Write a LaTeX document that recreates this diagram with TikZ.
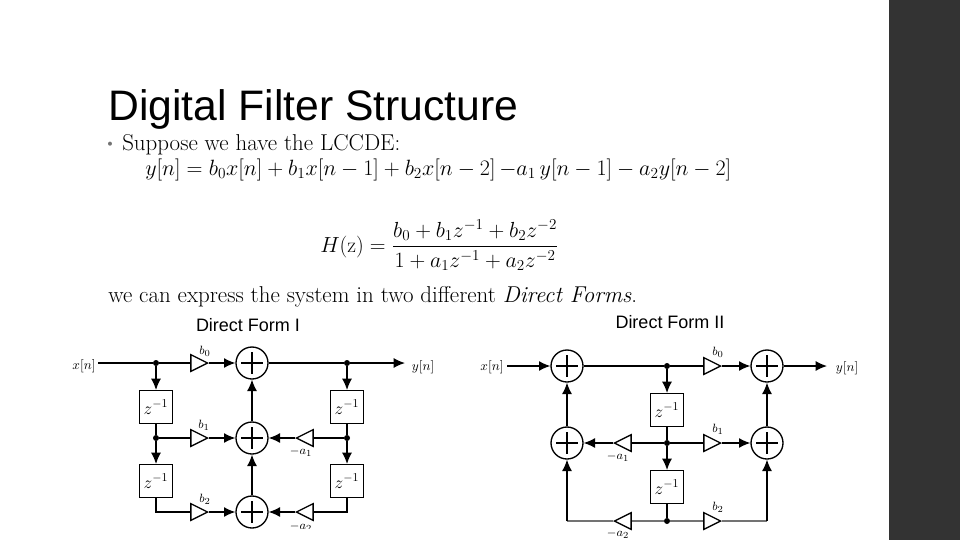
\documentclass[tikz,border=0pt]{standalone}
\usepackage{fontspec}
\usepackage{amsmath}
\usepackage{graphicx}
\newfontfamily\arialf{Liberation Sans}
\usetikzlibrary{shapes.geometric,arrows.meta}
\newcommand{\zinv}{\scalebox{0.9}{$z^{-1}$}}
\tikzset{
  wire/.style={line width=1pt,draw=black},
  wireg/.style={line width=1pt,draw=black!55},
  arr/.style={wire,-{Latex[length=8.5pt,width=7.5pt]}},
  sumn/.style={circle,draw,line width=1pt,minimum size=24pt,inner sep=0pt,
    path picture={\draw[line width=1pt] (path picture bounding box.center) +(-8pt,0) -- +(8pt,0)
      (path picture bounding box.center) +(0,-8pt) -- +(0,8pt);}},
  delay/.style={rectangle,draw,line width=1pt,minimum size=24.5pt,inner sep=0pt,font=\fontsize{14}{15}\selectfont},
  dotn/.style={circle,fill=black,inner sep=0pt,minimum size=4.5pt},
  gainr/.style={isosceles triangle,isosceles triangle stretches,draw,line width=1pt,fill=white,
    minimum width=12.5pt,minimum height=12.5pt,inner sep=0pt},
  gainl/.style={gainr,shape border rotate=180},
  lab/.style={inner sep=0pt,font=\fontsize{9.5}{10}\selectfont},
  sig/.style={inner sep=0pt,font=\fontsize{10}{11}\selectfont},
  ttl/.style={inner sep=0pt,font=\arialf\fontsize{13.5}{15}\selectfont},
  body/.style={inner sep=0pt,anchor=base west,font=\fontsize{17.2}{19}\selectfont},
  eqn/.style={inner sep=0pt,anchor=base west,font=\fontsize{17}{19}\selectfont},
  eqf/.style={inner sep=0pt,font=\fontsize{17}{19}\selectfont},
}
\begin{document}
\begin{tikzpicture}[x=0.75pt,y=-0.75pt]
\useasboundingbox (0,0) rectangle (960,540);
\fill[white] (0,0) rectangle (960,540);
\fill[black!80] (889,0) rectangle (960,540);

% heading and text
\node[inner sep=0pt,anchor=base west,font=\arialf\fontsize{32}{36}\selectfont] (title) at (108,120) {Digital Filter Structure};
\node[inner sep=0pt,text=black!55,font=\fontsize{7}{7}\selectfont] (bul) at (110,144) {$\bullet$};
\node[body] (t1) at (122,150) {Suppose we have the LCCDE:};
\node[eqn] (t2) at (145,175) {\scalebox{0.96}{$y[n]=b_0x[n]+b_1x[n-1]+b_2x[n-2]\,{-}a_1\,y[n-1]-a_2y[n-2]$}};
\node[eqf,anchor=west] (t3) at (320,245) {\scalebox{0.948}{$H(\mathrm{z})=\dfrac{b_0+b_1z^{-1}+b_2z^{-2}}{1+a_1z^{-1}+a_2z^{-2}}$}};
\node[body] (t4) at (108,302) {we can express the system in two different \textit{Direct Forms}.};
\node[ttl] (f1) at (248,325) {Direct Form I};
\node[ttl] (f2) at (670,322) {Direct Form II};

% Direct Form I
\node[sig] (xa) at (84,366) {$x[n]$};
\node[sig] (ya) at (423,367) {$y[n]$};
\coordinate (xas) at (98,363);
\coordinate (yae) at (405,363);
\node[sumn] (s0) at (252,363) {};
\node[sumn] (s1) at (252,438) {};
\node[sumn] (s2) at (252,512) {};
\node[dotn] (j0) at (156,363) {};
\node[dotn] (j1) at (156,438) {};
\node[dotn] (j3) at (347,363) {};
\node[dotn] (j4) at (347,438) {};
\node[delay] (d1) at (156,407) {\zinv};
\node[delay] (d2) at (156,481) {\zinv};
\node[delay] (d3) at (347,407) {\zinv};
\node[delay] (d4) at (347,481) {\zinv};
\node[gainr] (g0) at (196,363) {};
\node[gainr] (g1) at (196,438) {};
\node[gainr] (g2) at (196,512) {};
\node[gainl] (g4) at (308,438) {};
\node[gainl] (g5) at (308,512) {};
\node[lab] (lb0) at (205,351) {$b_0$};
\node[lab] (lb1) at (204,425) {$b_1$};
\node[lab] (lb2) at (205,499) {$b_2$};
\node[lab] (la1) at (301,452) {$-a_1$};
\node[lab] (la2) at (301,527) {$-a_2$};
\draw[wire] (xas) -- (j0) -- (g0.lower side);
\draw[arr] (g0.apex) -- (s0);
\draw[arr] (j0) -- (d1);
\draw[wire] (d1) -- (j1);
\draw[arr] (j1) -- (d2);
\draw[wire] (j1) -- (g1.lower side);
\draw[arr] (g1.apex) -- (s1);
\draw[wire] (d2.south) |- (g2.lower side);
\draw[arr] (g2.apex) -- (s2);
\draw[arr] (s2) -- (s1);
\draw[arr] (s1) -- (s0);
\draw[wire] (s0) -- (j3);
\draw[arr] (j3) -- (yae);
\draw[arr] (j3) -- (d3);
\draw[wire] (d3) -- (j4);
\draw[arr] (j4) -- (d4);
\draw[wire] (j4) -- (g4.lower side);
\draw[arr] (g4.apex) -- (s1);
\draw[wire] (d4.south) |- (g5.lower side);
\draw[arr] (g5.apex) -- (s2);
\fill[white] (60,528.5) rectangle (460,540);

% Direct Form II
\node[sig] (xb) at (492,367) {$x[n]$};
\node[sig] (yb) at (847,368) {$y[n]$};
\coordinate (xbs) at (507,366);
\coordinate (ybe) at (827,366);
\node[sumn] (p0) at (567,366) {};
\node[sumn] (p1) at (567,443) {};
\node[sumn] (q0) at (767,366) {};
\node[sumn] (q1) at (767,443) {};
\node[dotn] (k0) at (667,366) {};
\node[dotn] (k1) at (667,443) {};
\node[dotn,fill=black] (k2) at (667,521) {};
\node[delay] (e1) at (667,410) {\zinv};
\node[delay] (e2) at (667,487) {\zinv};
\node[gainr] (h0) at (709,366) {};
\node[gainr] (h1) at (709,443) {};
\node[gainr] (h2) at (709,521) {};
\node[gainl] (h3) at (626,443) {};
\node[gainl] (h4) at (626,521) {};
\node[lab] (mb0) at (718,352) {$b_0$};
\node[lab] (mb1) at (718,429) {$b_1$};
\node[lab] (mb2) at (718,507) {$b_2$};
\node[lab] (ma1) at (618,457) {$-a_1$};
\node[lab] (ma2) at (618,534) {$-a_2$};
\coordinate (cl) at (567,521);
\coordinate (cr) at (767,521);
\draw[arr] (xbs) -- (p0);
\draw[wire] (p0) -- (k0) -- (h0.lower side);
\draw[arr] (h0.apex) -- (q0);
\draw[arr] (q0) -- (ybe);
\draw[arr] (k0) -- (e1);
\draw[wire] (e1) -- (k1);
\draw[arr] (k1) -- (e2);
\draw[wire] (e2) -- (k2);
\draw[wire] (k1) -- (h1.lower side);
\draw[arr] (h1.apex) -- (q1);
\draw[wire] (k1) -- (h3.lower side);
\draw[arr] (h3.apex) -- (p1);
\draw[arr] (p1) -- (p0);
\draw[arr] (q1) -- (q0);
\draw[wireg] (k2) -- (h2.lower side);
\draw[wireg] (h2.apex) -- (cr);
\draw[wireg] (k2) -- (h4.lower side);
\draw[wireg] (h4.apex) -- (cl);
\draw[arr] (cr) -- (q1);
\draw[arr] (cl) -- (p1);
\end{tikzpicture}
\end{document}
